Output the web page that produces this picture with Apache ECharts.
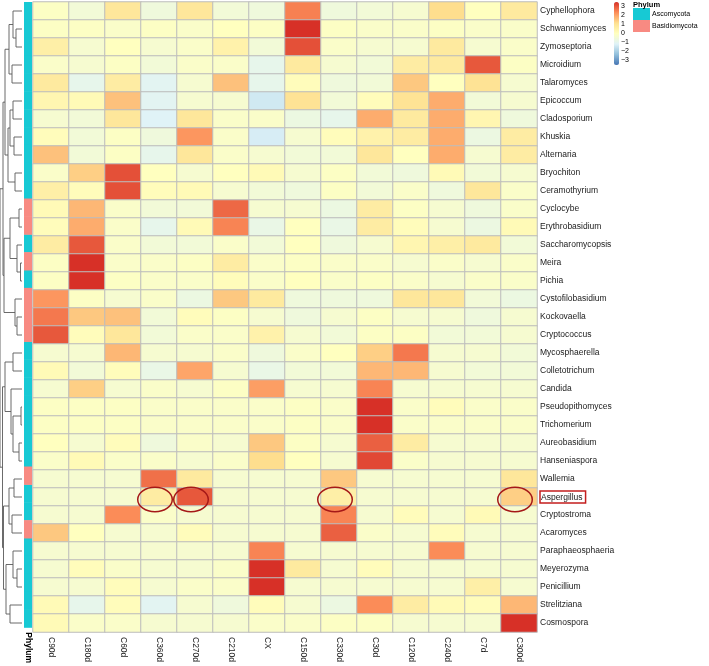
<!DOCTYPE html>
<html><head><meta charset="utf-8">
<script src="https://cdn.jsdelivr.net/npm/echarts@6/dist/echarts.min.js"></script>
<style>html,body{margin:0;padding:0;background:#fff}#c{width:709px;height:666px}</style>
</head><body><div id="c"></div>
<script>
// ---------------- data ----------------
const columns = ['C90d','C180d','C60d','C360d','C270d','C210d','CX','C150d','C330d','C30d','C120d','C240d','C7d','C300d'];
const rows = ['Cyphellophora','Schwanniomyces','Zymoseptoria','Microidium','Talaromyces','Epicoccum','Cladosporium','Khuskia','Alternaria','Bryochiton','Ceramothyrium','Cyclocybe','Erythrobasidium','Saccharomycopsis','Meira','Pichia','Cystofilobasidium','Kockovaella','Cryptococcus','Mycosphaerella','Colletotrichum','Candida','Pseudopithomyces','Trichomerium','Aureobasidium','Hanseniaspora','Wallemia','Aspergillus','Cryptostroma','Acaromyces','Paraphaeosphaeria','Meyerozyma','Penicillium','Strelitziana','Cosmospora'];
const phylum = ['Ascomycota','Ascomycota','Ascomycota','Ascomycota','Ascomycota','Ascomycota','Ascomycota','Ascomycota','Ascomycota','Ascomycota','Ascomycota','Basidiomycota','Basidiomycota','Ascomycota','Basidiomycota','Ascomycota','Basidiomycota','Basidiomycota','Basidiomycota','Ascomycota','Ascomycota','Ascomycota','Ascomycota','Ascomycota','Ascomycota','Ascomycota','Basidiomycota','Ascomycota','Ascomycota','Basidiomycota','Ascomycota','Ascomycota','Ascomycota','Ascomycota','Ascomycota'];
const phylumLevels = ['Ascomycota','Basidiomycota'];
// z-scores, one row per genus, in column order
const values = [
 [-0.1,-0.5,0.9,-0.6,0.9,-0.5,-0.6,2.5,-0.6,-0.5,-0.35,1.2,0,0.8],
 [-0.1,-0.1,-0.2,-0.1,-0.2,0,-0.1,3.5,-0.1,-0.2,-0.2,-0.1,-0.2,-0.2],
 [0.6,-0.35,0,-0.35,-0.2,0.5,-0.5,3.1,-0.2,-0.35,-0.35,0.8,-0.35,-0.2],
 [-0.2,-0.35,-0.1,-0.5,-0.2,-0.2,-0.9,0.8,-0.35,-0.5,0.7,0.8,3.0,-0.1],
 [0.8,-0.9,0.7,-1.05,-0.35,1.6,-0.9,0.1,-0.6,-0.5,1.5,0,1.05,-0.35],
 [0.35,0.2,1.6,-1.05,-0.35,-0.35,-1.4,1.05,-0.5,0.1,1.05,1.9,-0.5,-0.35],
 [-0.35,-0.5,0.9,-1.15,0.9,-0.2,-0.2,-0.7,-0.9,1.9,0.8,1.9,0.35,-0.6],
 [0.1,-0.5,-0.1,-0.6,2.2,-0.2,-1.3,-0.35,0.1,0.5,0.7,1.9,-0.7,0.7],
 [1.6,-0.5,-0.1,-0.9,0.9,-0.2,-0.35,-0.5,-0.5,0.9,0,1.9,-0.35,0.7],
 [-0.2,1.4,3.1,0,-0.35,0,0.2,-0.35,-0.1,-0.5,-0.6,0.2,-0.5,-0.35],
 [0.6,0.1,3.1,0.1,0.2,-0.35,-0.5,-0.6,-0.1,-0.5,-0.2,-0.6,0.9,-0.2],
 [0.2,1.75,-0.2,-0.5,-0.5,2.8,-0.35,-0.35,-0.7,0.7,-0.1,-0.35,-0.6,-0.2],
 [0.1,1.9,-0.2,-0.9,0.2,2.45,-0.8,0,-0.8,0.7,0.1,-0.35,-0.7,0.2],
 [0.7,3.0,-0.2,-0.5,-0.5,-0.2,-0.5,0,-0.6,-0.35,0.35,0.6,0.8,-0.5],
 [-0.1,3.5,-0.2,-0.2,-0.1,0.7,-0.2,-0.1,-0.2,-0.2,-0.35,-0.2,-0.35,-0.2],
 [-0.1,3.5,-0.1,-0.2,-0.2,0.1,-0.2,0,-0.2,-0.1,-0.2,-0.35,-0.2,-0.2],
 [2.2,-0.1,-0.35,-0.2,-0.7,1.5,0.8,-0.6,-0.6,-0.6,0.9,0.9,-0.5,-0.7],
 [2.6,1.5,1.6,-0.5,0.1,-0.1,-0.35,-0.6,-0.35,-0.1,-0.35,-0.35,-0.6,-0.35],
 [3.0,0.1,0.9,-0.5,-0.2,-0.2,0.5,-0.35,-0.5,-0.1,-0.1,-0.5,-0.5,-0.35],
 [-0.35,-0.35,1.75,-0.35,-0.35,-0.2,-0.6,-0.2,0,1.4,2.6,-0.35,-0.35,-0.5],
 [0.2,-0.5,0.1,-0.8,2.0,-0.35,-0.8,-0.5,-0.5,1.75,1.75,-0.35,-0.5,-0.5],
 [-0.35,1.4,-0.35,-0.2,-0.35,-0.1,2.1,-0.35,-0.35,2.45,-0.35,-0.35,-0.35,-0.35],
 [-0.1,-0.1,-0.1,-0.2,-0.2,-0.2,-0.2,-0.1,-0.2,3.5,-0.2,0.1,-0.2,-0.2],
 [-0.1,-0.1,-0.1,-0.2,-0.2,-0.2,-0.2,-0.1,-0.2,3.5,-0.2,-0.2,-0.2,-0.2],
 [0,-0.35,0.1,-0.6,-0.2,-0.35,1.5,-0.1,-0.35,2.9,0.7,-0.35,-0.35,-0.35],
 [-0.2,0.2,-0.2,-0.2,-0.35,-0.2,1.2,0,-0.35,3.2,-0.2,-0.35,-0.35,-0.35],
 [-0.35,-0.35,-0.35,2.7,0.8,-0.35,-0.35,-0.35,1.5,-0.35,-0.35,-0.35,-0.35,0.9],
 [-0.35,-0.35,-0.35,0.7,3.0,-0.35,-0.35,-0.35,0.6,-0.35,-0.35,-0.35,-0.35,1.4],
 [-0.35,-0.35,2.35,-0.2,-0.35,-0.35,-0.35,-0.35,2.45,-0.35,0.1,-0.35,0.2,-0.35],
 [1.5,0,-0.35,-0.35,0.1,-0.35,-0.35,-0.35,2.9,-0.2,-0.35,0.1,-0.35,-0.35],
 [-0.35,-0.35,-0.35,-0.35,-0.35,-0.35,2.45,-0.35,-0.35,-0.35,-0.35,2.35,-0.35,-0.35],
 [-0.35,0.1,-0.2,-0.35,-0.35,-0.2,3.5,0.8,-0.35,0.1,-0.35,-0.35,-0.35,-0.35],
 [-0.35,-0.35,0.1,-0.35,-0.2,-0.2,3.5,-0.35,-0.35,-0.35,-0.35,-0.35,0.6,-0.35],
 [0.2,-0.9,0.1,-1.05,-0.35,-0.6,0.1,-0.35,-0.7,2.35,0.7,0.2,0.1,1.75],
 [0.2,-0.2,-0.2,-0.35,-0.35,-0.35,-0.2,-0.2,-0.1,-0.1,-0.35,-0.35,-0.35,3.5]
];
// row dendrogram: [mergeHeight, left, right]; leaves are row names
const rowTree = [22,
  [19,
    [17,
      [13, [9, 'Cyphellophora', [6, 'Schwanniomyces', 'Zymoseptoria']], [10, 'Microidium', 'Talaromyces']],
      [14, [12, [9, 'Epicoccum', 'Cladosporium'], [8, 'Khuskia', 'Alternaria']], [7, 'Bryochiton', 'Ceramothyrium']]
    ],
    [18,
      [12, [3, 'Cyclocybe', 'Erythrobasidium'], [5, 'Saccharomycopsis', [1.5, 'Meira', 'Pichia']]],
      [7, 'Cystofilobasidium', [5, 'Kockovaella', 'Cryptococcus']]
    ]
  ],
  [19.5,
    [17,
      [9, 'Mycosphaerella', 'Colletotrichum'],
      [11, 'Candida', [9, [1, 'Pseudopithomyces', 'Trichomerium'], [3, 'Aureobasidium', 'Hanseniaspora']]]
    ],
    [18.5,
      [13, [8, 'Wallemia', 'Aspergillus'], [10, 'Cryptostroma', 'Acaromyces']],
      [16, [9, 'Paraphaeosphaeria', [5, 'Meyerozyma', 'Penicillium']], [12, 'Strelitziana', 'Cosmospora']]
    ]
  ]
];
const highlightRow = 'Aspergillus';
const highlightCols = ['C360d', 'C270d', 'C330d', 'C300d'];
const scaleTicks = [3, 2, 1, 0, -1, -2, -3];

// ---------------- build ----------------
const FONT = '"Liberation Sans", Arial, Helvetica, sans-serif';
const phylumColors = {Ascomycota: '#17C9D4', Basidiomycota: '#F88A82'};
const heatColors = ['#4575B4','#91BFDB','#E0F3F8','#FFFFBF','#FEE090','#FC8D59','#D73027'];

const heatData = [];
rows.forEach((r, ri) => columns.forEach((c, ci) => heatData.push([ci, ri, values[ri][ci]])));

const dendroSegs = [];
function walk(node) {
  if (typeof node === 'string') return {h: 0, y: rows.indexOf(node)};
  const l = walk(node[1]), r = walk(node[2]);
  dendroSegs.push([node[0], l.h, l.y, r.h, r.y]);
  return {h: node[0], y: (l.y + r.y) / 2};
}
walk(rowTree);

const ellipseData = highlightCols.map(c => [columns.indexOf(c), rows.indexOf(highlightRow)]);

const gridTop = 2, gridH = 630;
const chart = echarts.init(document.getElementById('c'), null, {renderer: 'canvas'});
chart.setOption({
  animation: false,
  backgroundColor: '#fff',
  textStyle: {fontFamily: FONT},
  title: {text: 'Phylum', left: 633, top: 1, padding: 0,
    textStyle: {fontSize: 7.5, fontWeight: 'bold', color: '#000', fontFamily: FONT}},
  legend: {data: phylumLevels, orient: 'vertical', left: 633, top: 8, padding: 0,
    itemWidth: 17, itemHeight: 12, itemGap: 0, icon: 'rect', selectedMode: false,
    textStyle: {fontSize: 7, color: '#000', fontFamily: FONT, padding: [0, 0, 0, -3]}},
  grid: [
    {left: 0, top: gridTop, width: 22, height: gridH},
    {left: 24, top: gridTop, width: 8, height: gridH},
    {left: 33, top: gridTop, width: 504, height: gridH},
    {left: 614, top: 2, width: 5, height: 63}
  ],
  xAxis: [
    {type: 'value', gridIndex: 0, min: 0, max: 22, inverse: true, show: false},
    {type: 'category', gridIndex: 1, data: ['Phylum'], axisLine: {show: false}, axisTick: {show: false},
      axisLabel: {rotate: -90, margin: 5, fontSize: 8.5, fontWeight: 'bold', color: '#000', fontFamily: FONT}},
    {type: 'category', gridIndex: 2, data: columns, axisLine: {show: false}, axisTick: {show: false},
      splitLine: {show: false}, axisLabel: {rotate: -90, margin: 5, fontSize: 8.5, color: '#1a1a1a', fontFamily: FONT, interval: 0}},
    {type: 'category', gridIndex: 3, data: [''], show: false}
  ],
  yAxis: [
    {type: 'value', gridIndex: 0, min: -0.5, max: rows.length - 0.5, inverse: true, show: false},
    {type: 'category', gridIndex: 1, data: rows, inverse: true, show: false},
    {type: 'category', gridIndex: 2, data: rows, inverse: true, position: 'right',
      axisLine: {show: false}, axisTick: {show: false}, splitLine: {show: false},
      axisLabel: {margin: 3, fontSize: 8.5, color: '#1a1a1a', fontFamily: FONT, interval: 0,
        formatter: v => v === highlightRow ? '{hl|' + v + '}' : v,
        rich: {hl: {borderColor: '#C41E1E', borderWidth: 1.5, padding: [2, 3, 1, 1], fontSize: 8.5, color: '#1a1a1a', fontFamily: FONT}}}},
    {type: 'value', gridIndex: 3, min: -3.5, max: 3.5, position: 'right',
      axisLine: {show: false}, axisTick: {show: false}, splitLine: {show: false},
      axisLabel: {customValues: scaleTicks, margin: 2, fontSize: 7, color: '#000', fontFamily: FONT,
        formatter: v => v < 0 ? '\u2212' + Math.abs(v) : String(v)}}
  ],
  visualMap: {type: 'continuous', min: -3.5, max: 3.5, seriesIndex: 3, calculable: false,
    left: 614, top: 2, itemWidth: 5, itemHeight: 63, padding: 0, orient: 'vertical',
    inRange: {color: heatColors}, hoverLink: false},
  series: [
    {type: 'custom', xAxisIndex: 0, yAxisIndex: 0, data: dendroSegs, silent: true,
      renderItem: (p, api) => {
        const h = api.value(0), lh = api.value(1), ly = api.value(2), rh = api.value(3), ry = api.value(4);
        return {type: 'polyline', shape: {points: [api.coord([lh, ly]), api.coord([h, ly]), api.coord([h, ry]), api.coord([rh, ry])]},
          style: {stroke: '#5a5a5a', lineWidth: 0.9, fill: null}};
      }},
    ...phylumLevels.map(lv => ({
      type: 'custom', name: lv, xAxisIndex: 1, yAxisIndex: 1, silent: true,
      itemStyle: {color: phylumColors[lv]},
      data: rows.map((r, i) => phylum[i] === lv ? [0, i] : null).filter(d => d),
      renderItem: (p, api) => {
        const c = api.coord([api.value(0), api.value(1)]);
        const s = api.size([1, 1]);
        return {type: 'rect', shape: {x: c[0] - s[0] / 2, y: c[1] - s[1] / 2, width: s[0], height: s[1] + 0.5},
          style: {fill: phylumColors[lv]}};
      }
    })),
    {type: 'heatmap', xAxisIndex: 2, yAxisIndex: 2, data: heatData, silent: true,
      itemStyle: {borderColor: '#bcbcbc', borderWidth: 1}, emphasis: {disabled: true}},
    {type: 'custom', xAxisIndex: 2, yAxisIndex: 2, data: ellipseData, silent: true, z: 10,
      renderItem: (p, api) => {
        const c = api.coord([api.value(0), api.value(1)]);
        const s = api.size([1, 1]);
        return {type: 'ellipse', shape: {cx: c[0] - 4, cy: c[1] + 2.5, rx: s[0] * 0.48, ry: s[1] * 0.68},
          style: {fill: null, stroke: '#A51818', lineWidth: 1.5}};
      }}
  ]
});
</script>
</body></html>
